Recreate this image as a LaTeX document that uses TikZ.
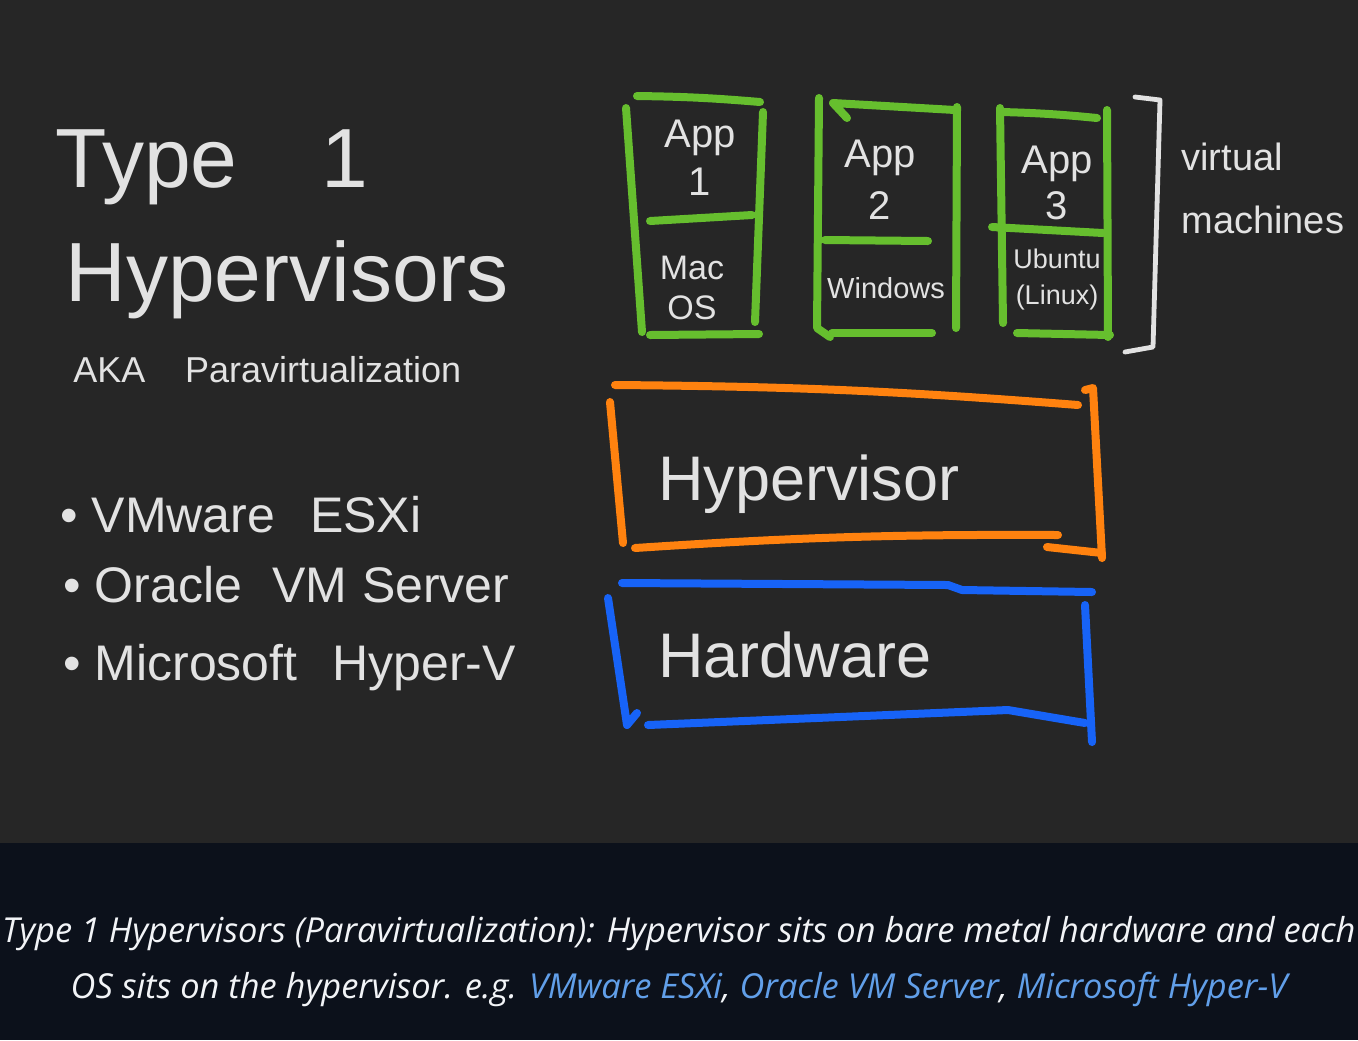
\documentclass[tikz,border=0pt]{standalone}
\usepackage{fontspec}
\setmainfont{Liberation Sans}
\newfontfamily\captionfont{Open Sans}
\usepackage{xcolor}
\usetikzlibrary{positioning}
\definecolor{BoardGray}{HTML}{262626}
\definecolor{CaptionNavy}{HTML}{0C111B}
\definecolor{ChalkWhite}{HTML}{E2E2E2}
\definecolor{VmGreen}{HTML}{66BE2E}
\definecolor{HvOrange}{HTML}{FF820F}
\definecolor{HwBlue}{HTML}{1763F7}
\definecolor{LinkBlue}{HTML}{619FE9}
\definecolor{CaptionWhite}{HTML}{F2F4F7}

\begin{document}
\begin{tikzpicture}[
  x=0.5pt, y=-0.5pt,
  chalk/.style={text=ChalkWhite, inner sep=0pt},
  vmtext/.style={chalk, align=center},
  stroke/.style={line width=4pt, line cap=round, line join=round},
  vm/.style={stroke, draw=VmGreen},
  hv/.style={stroke, draw=HvOrange},
  hw/.style={stroke, draw=HwBlue},
  bracket/.style={stroke, line width=2.4pt, draw=ChalkWhite},
  captext/.style={inner sep=0pt, text=CaptionWhite, font=\captionfont\itshape\fontsize{17.2}{20}\selectfont}
]
\fill[BoardGray] (0,0) rectangle (1358,843);
\fill[CaptionNavy] (0,843) rectangle (1358,1040);
\useasboundingbox (0,0) rectangle (1358,1040);

\node[chalk, anchor=base west, font=\fontsize{42}{46}\selectfont] (title1) at (55,187) {Type\hspace{1em}1};
\node[chalk, anchor=base west, font=\fontsize{42}{46}\selectfont] (title2) at (65,301) {Hypervisors};
\node[chalk, anchor=base west, font=\fontsize{18}{20}\selectfont] (aka) at (73,382) {AKA\hspace{1.1em}Paravirtualization};
\node[chalk, anchor=base west, font=\fontsize{25}{28}\selectfont] (esx) at (60,532) {• VMware\hspace{0.7em}ESXi};
\node[chalk, anchor=base west, font=\fontsize{25}{28}\selectfont] (oracle) at (63,602) {• Oracle\hspace{0.6em}VM\hspace{0.3em}Server};
\node[chalk, anchor=base west, font=\fontsize{25}{28}\selectfont] (hyperv) at (63,680) {• Microsoft\hspace{0.7em}Hyper-V};

\draw[vm] (637,96) to[bend left=2] (760,102);
\draw[vm] (626,108) -- (642,332);
\draw[vm] (763,112) -- (755,322);
\draw[vm] (650,221) -- (752,215);
\draw[vm] (650,335) -- (759,334);
\node[vmtext, font=\fontsize{20}{24}\selectfont] (app1) at (700,158) {App\\1};
\node[vmtext, font=\fontsize{17}{20}\selectfont] (os1) at (692,288) {Mac\\OS};

\draw[vm] (847,118) -- (833,103) -- (955,110);
\draw[vm] (819,98) -- (817,328) -- (830,337);
\draw[vm] (957,107) -- (956,328);
\draw[vm] (825,240) -- (928,241);
\draw[vm] (832,333) -- (932,333);
\node[vmtext, font=\fontsize{20}{26}\selectfont] (app2) at (880,180) {App\\2};
\node[vmtext, font=\fontsize{14.5}{17}\selectfont] (os2) at (886,288) {Windows};

\draw[vm] (1002,112) to[bend left=2] (1097,118);
\draw[vm] (1000,108) -- (1003,323);
\draw[vm] (1107,110) -- (1108,337);
\draw[vm] (992,227) -- (1103,233);
\draw[vm] (1017,333) -- (1110,335);
\node[vmtext, font=\fontsize{20}{23}\selectfont] (app3) at (1057,183) {App\\3};
\node[vmtext, font=\fontsize{13.5}{18}\selectfont] (os3) at (1057,280) {Ubuntu\\(Linux)};

\draw[bracket] (1135,97) -- (1160,100) -- (1153,347) -- (1125,352);
\node[chalk, anchor=west, align=left, font=\fontsize{19}{31.5}\selectfont] (vms) at (1181,188) {virtual\\machines};

\draw[hv] (615,385) to[bend left=2] (1078,405);
\draw[hv] (610,402) -- (623,543);
\draw[hv] (1085,390) -- (1093,388) -- (1102,558);
\draw[hv] (635,548) to[bend left=2] (1058,535);
\draw[hv] (1047,547) -- (1102,553);
\node[chalk, anchor=base west, font=\fontsize{31.5}{36}\selectfont] (hypervisor) at (658,500) {Hypervisor};

\draw[hw] (622,583) -- (948,585) -- (962,590) -- (1092,592);
\draw[hw] (608,598) -- (627,725) -- (637,713);
\draw[hw] (1085,605) -- (1092,742);
\draw[hw] (648,725) -- (1008,710) -- (1085,723);
\node[chalk, anchor=base west, font=\fontsize{31.5}{36}\selectfont] (hardware) at (658,677) {Hardware};

\node[captext, anchor=base] (cap1) at (679,942) {Type 1 Hypervisors (Paravirtualization): Hypervisor sits on bare metal hardware and each};
\node[captext, anchor=base] (cap2) at (679,998) {OS sits on the hypervisor. e.g. \textcolor{LinkBlue}{VMware ESXi}, \textcolor{LinkBlue}{Oracle VM Server}, \textcolor{LinkBlue}{Microsoft Hyper-V}};
\end{tikzpicture}
\end{document}
